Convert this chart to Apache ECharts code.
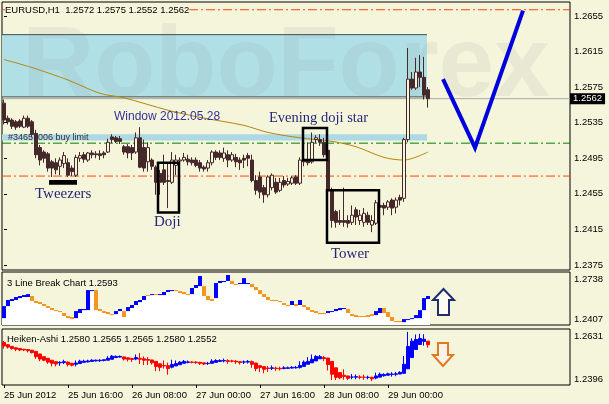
<!DOCTYPE html>
<html><head><meta charset="utf-8">
<script src="https://cdn.jsdelivr.net/npm/echarts@6/dist/echarts.min.js"></script>
<style>html,body{margin:0;padding:0;background:#f5f5dc;overflow:hidden}#c{width:609px;height:404px}</style>
</head><body><div id="c"></div>
<script>
// ---------- data ----------
const priceTicks = [1.2375, 1.2415, 1.2455, 1.2495, 1.2535, 1.2575, 1.2615, 1.2655];
const timeTickBars = [0, 16, 32, 48, 64, 80, 96];
const timeTickLabels = ['25 Jun 2012', '25 Jun 16:00', '26 Jun 08:00', '27 Jun 00:00', '27 Jun 16:00', '28 Jun 08:00', '29 Jun 00:00'];
const mainRange = [1.23694, 1.26707];
const lbRange = [1.2407, 1.2738];
const haRange = [1.2396, 1.2631];
const titleText = 'EURUSD,H1  1.2572 1.2575 1.2552 1.2562';
const lbTitle = '3 Line Break Chart 1.2593';
const haTitle = 'Heiken-Ashi 1.2580 1.2565 1.2565 1.2580 1.2552';
const orderText = '#34657006 buy limit';

// hourly candles: [open, close, low, high]
const ohlc = [
[1.2557,1.2538,1.2533,1.2561],[1.2540,1.2536,1.2533,1.2543],[1.2538,1.2531,1.2528,1.2540],[1.2536,1.2530,1.2527,1.2538],
[1.2537,1.2531,1.2529,1.2539],[1.2530,1.2540,1.2529,1.2543],[1.2540,1.2531,1.2529,1.2543],[1.2536,1.2522,1.2519,1.2538],
[1.2523,1.2499,1.2495,1.2527],[1.2507,1.2493,1.2487,1.2510],[1.2502,1.2495,1.2490,1.2504],[1.2500,1.2484,1.2480,1.2502],
[1.2491,1.2484,1.2474,1.2493],[1.2490,1.2482,1.2477,1.2495],[1.2486,1.2493,1.2476,1.2496],[1.2489,1.2498,1.2484,1.2502],
[1.2490,1.2476,1.2474,1.2495],[1.2484,1.2480,1.2475,1.2487],[1.2476,1.2496,1.2474,1.2499],[1.2495,1.2498,1.2491,1.2502],
[1.2499,1.2494,1.2490,1.2502],[1.2493,1.2501,1.2491,1.2502],[1.2501,1.2499,1.2495,1.2504],[1.2500,1.2499,1.2495,1.2503],
[1.2500,1.2498,1.2493,1.2504],[1.2501,1.2499,1.2495,1.2503],[1.2502,1.2513,1.2501,1.2517],[1.2519,1.2516,1.2512,1.2522],
[1.2518,1.2514,1.2512,1.2520],[1.2517,1.2514,1.2511,1.2520],[1.2508,1.2502,1.2499,1.2510],[1.2508,1.2501,1.2495,1.2511],
[1.2507,1.2501,1.2493,1.2510],[1.2502,1.2518,1.2500,1.2524],[1.2518,1.2485,1.2484,1.2530],[1.2507,1.2484,1.2480,1.2516],
[1.2491,1.2507,1.2480,1.2513],[1.2493,1.2486,1.2482,1.2495],[1.2485,1.2468,1.2454,1.2487],[1.2478,1.2468,1.2454,1.2482],
[1.2482,1.2468,1.2465,1.2499],[1.2470,1.2469,1.2439,1.2490],[1.2468,1.2493,1.2466,1.2502],[1.2487,1.2493,1.2476,1.2499],
[1.2492,1.2493,1.2487,1.2496],[1.2493,1.2496,1.2491,1.2501],[1.2494,1.2491,1.2487,1.2499],[1.2493,1.2490,1.2487,1.2496],
[1.2493,1.2487,1.2485,1.2496],[1.2490,1.2484,1.2480,1.2493],[1.2485,1.2483,1.2480,1.2487],[1.2484,1.2490,1.2480,1.2493],
[1.2490,1.2502,1.2487,1.2504],[1.2502,1.2496,1.2493,1.2504],[1.2501,1.2496,1.2493,1.2504],[1.2495,1.2501,1.2491,1.2507],
[1.2499,1.2493,1.2485,1.2504],[1.2493,1.2499,1.2491,1.2502],[1.2496,1.2491,1.2485,1.2500],[1.2493,1.2490,1.2482,1.2496],
[1.2495,1.2493,1.2484,1.2499],[1.2498,1.2495,1.2486,1.2501],[1.2493,1.2470,1.2468,1.2499],[1.2470,1.2459,1.2454,1.2476],
[1.2474,1.2457,1.2450,1.2480],[1.2462,1.2454,1.2445,1.2465],[1.2454,1.2474,1.2451,1.2476],[1.2462,1.2476,1.2459,1.2478],
[1.2468,1.2457,1.2455,1.2473],[1.2459,1.2468,1.2457,1.2473],[1.2470,1.2465,1.2462,1.2475],[1.2466,1.2469,1.2464,1.2473],
[1.2467,1.2473,1.2465,1.2475],[1.2474,1.2467,1.2465,1.2476],[1.2467,1.2493,1.2465,1.2496],[1.2493,1.2491,1.2486,1.2499],
[1.2492,1.2490,1.2487,1.2513],[1.2491,1.2513,1.2489,1.2524],[1.2516,1.2518,1.2512,1.2521],[1.2516,1.2513,1.2509,1.2522],
[1.2513,1.2499,1.2496,1.2518],[1.2504,1.2459,1.2457,1.2507],[1.2459,1.2425,1.2417,1.2462],[1.2435,1.2423,1.2417,1.2437],
[1.2425,1.2423,1.2420,1.2437],[1.2425,1.2423,1.2418,1.2462],[1.2425,1.2422,1.2417,1.2431],[1.2423,1.2431,1.2420,1.2442],
[1.2437,1.2429,1.2420,1.2440],[1.2425,1.2431,1.2420,1.2437],[1.2423,1.2433,1.2418,1.2439],[1.2431,1.2423,1.2420,1.2435],
[1.2420,1.2425,1.2412,1.2431],[1.2422,1.2445,1.2420,1.2448],[1.2442,1.2440,1.2435,1.2448],[1.2442,1.2439,1.2431,1.2445],
[1.2440,1.2446,1.2437,1.2448],[1.2448,1.2439,1.2431,1.2450],[1.2440,1.2448,1.2433,1.2451],[1.2451,1.2448,1.2442,1.2454],
[1.2450,1.2516,1.2446,1.2518],[1.2516,1.2584,1.2513,1.2619],[1.2584,1.2574,1.2572,1.2592],[1.2574,1.2592,1.2572,1.2608],
[1.2592,1.2586,1.2575,1.2611],[1.2586,1.2566,1.2561,1.2609],[1.2572,1.2562,1.2552,1.2575]
];

// moving average read at sampled bars: [bar, price]
const movingAverage = [[0,1.2606],[7,1.2597],[16,1.2583],[24,1.2568],[30,1.2563],[41,1.2549],[49,1.2541],[60,1.2532],
[66,1.2524],[74,1.2518],[82,1.2514],[88,1.2508],[95,1.2496],[100,1.2493],[106,1.2502]];

// 3 line break bricks: [low, high, direction (1 up, -1 down)]
const lineBreak = [
[1.2450,1.2525,1],[1.2525,1.2563,1],[1.2557,1.2569,1],[1.2563,1.2582,1],[1.2575,1.2588,1],[1.2582,1.2594,1],[1.2582,1.2600,1],
[1.2557,1.2588,-1],[1.2544,1.2557,-1],[1.2538,1.2550,-1],[1.2525,1.2538,-1],[1.2513,1.2525,-1],[1.2500,1.2513,-1],[1.2494,1.2500,-1],
[1.2488,1.2494,-1],[1.2463,1.2482,-1],[1.2450,1.2463,-1],[1.2444,1.2457,-1],[1.2450,1.2494,1],[1.2482,1.2507,1],[1.2500,1.2507,1],
[1.2500,1.2625,1],[1.2619,1.2625,1],[1.2500,1.2625,-1],[1.2494,1.2507,-1],[1.2482,1.2494,-1],[1.2475,1.2488,-1],[1.2469,1.2475,-1],
[1.2475,1.2494,1],[1.2494,1.2507,1],[1.2457,1.2494,-1],[1.2494,1.2519,1],[1.2513,1.2532,1],[1.2532,1.2557,1],[1.2550,1.2563,1],
[1.2563,1.2588,1],[1.2588,1.2594,-1],[1.2594,1.2600,1],[1.2594,1.2600,-1],[1.2594,1.2600,1],[1.2594,1.2613,1],[1.2613,1.2625,1],
[1.2619,1.2625,1],[1.2619,1.2625,-1],[1.2607,1.2619,-1],[1.2600,1.2613,-1],[1.2594,1.2600,-1],[1.2600,1.2638,1],[1.2638,1.2657,1],
[1.2650,1.2713,1],[1.2588,1.2650,-1],[1.2563,1.2588,-1],[1.2557,1.2569,-1],[1.2575,1.2669,1],[1.2669,1.2682,1],[1.2675,1.2682,1],
[1.2682,1.2719,1],[1.2663,1.2682,-1],[1.2657,1.2663,-1],[1.2663,1.2669,1],[1.2663,1.2700,1],[1.2663,1.2669,1],[1.2644,1.2663,-1],
[1.2625,1.2644,-1],[1.2600,1.2625,-1],[1.2582,1.2600,-1],[1.2563,1.2582,-1],[1.2557,1.2563,-1],[1.2557,1.2563,-1],[1.2550,1.2557,-1],
[1.2532,1.2544,-1],[1.2525,1.2532,-1],[1.2532,1.2557,1],[1.2525,1.2538,-1],[1.2532,1.2563,1],[1.2519,1.2532,-1],[1.2500,1.2519,-1],
[1.2488,1.2500,-1],[1.2482,1.2494,-1],[1.2475,1.2482,-1],[1.2475,1.2482,-1],[1.2482,1.2494,1],[1.2488,1.2494,1],[1.2494,1.2507,1],
[1.2500,1.2513,1],[1.2507,1.2513,1],[1.2482,1.2507,-1],[1.2463,1.2475,-1],[1.2457,1.2469,-1],[1.2457,1.2463,-1],[1.2457,1.2463,-1],
[1.2457,1.2469,-1],[1.2463,1.2475,-1],[1.2469,1.2494,1],[1.2482,1.2513,1],[1.2482,1.2513,-1],[1.2457,1.2488,-1],[1.2432,1.2457,-1],
[1.2425,1.2432,-1],[1.2425,1.2432,-1],[1.2425,1.2444,1],[1.2438,1.2444,1],[1.2444,1.2450,1],[1.2450,1.2469,1],[1.2450,1.2500,1],
[1.2500,1.2575,1],[1.2569,1.2588,1]
];

// Heiken-Ashi: [open, close, low, high]
const heikenAshi = [
[1.2575,1.2560,1.2549,1.2581],[1.2565,1.2555,1.2549,1.2568],[1.2558,1.2549,1.2544,1.2560],[1.2552,1.2546,1.2538,1.2554],
[1.2549,1.2543,1.2538,1.2551],[1.2546,1.2543,1.2538,1.2547],[1.2545,1.2540,1.2533,1.2546],[1.2542,1.2532,1.2528,1.2543],
[1.2537,1.2515,1.2506,1.2538],[1.2526,1.2505,1.2496,1.2527],[1.2515,1.2500,1.2496,1.2516],[1.2508,1.2492,1.2485,1.2509],
[1.2500,1.2487,1.2474,1.2501],[1.2494,1.2484,1.2474,1.2495],[1.2489,1.2491,1.2476,1.2496],[1.2490,1.2494,1.2484,1.2502],
[1.2492,1.2482,1.2474,1.2495],[1.2487,1.2479,1.2474,1.2489],[1.2483,1.2488,1.2474,1.2499],[1.2486,1.2496,1.2486,1.2502],
[1.2491,1.2496,1.2490,1.2502],[1.2493,1.2497,1.2491,1.2502],[1.2495,1.2500,1.2495,1.2504],[1.2497,1.2500,1.2495,1.2503],
[1.2498,1.2500,1.2493,1.2504],[1.2499,1.2502,1.2495,1.2503],[1.2500,1.2508,1.2500,1.2517],[1.2504,1.2517,1.2504,1.2522],
[1.2511,1.2516,1.2511,1.2520],[1.2513,1.2516,1.2511,1.2520],[1.2514,1.2505,1.2499,1.2515],[1.2510,1.2504,1.2495,1.2511],
[1.2507,1.2503,1.2493,1.2510],[1.2505,1.2511,1.2500,1.2524],[1.2508,1.2504,1.2484,1.2530],[1.2506,1.2500,1.2480,1.2516],
[1.2503,1.2500,1.2480,1.2513],[1.2501,1.2489,1.2482,1.2502],[1.2495,1.2474,1.2454,1.2496],[1.2485,1.2470,1.2454,1.2486],
[1.2478,1.2476,1.2465,1.2499],[1.2477,1.2465,1.2439,1.2490],[1.2471,1.2482,1.2466,1.2502],[1.2476,1.2486,1.2476,1.2499],
[1.2481,1.2492,1.2481,1.2496],[1.2487,1.2495,1.2487,1.2501],[1.2491,1.2493,1.2487,1.2499],[1.2492,1.2491,1.2487,1.2496],
[1.2492,1.2490,1.2485,1.2496],[1.2491,1.2487,1.2480,1.2493],[1.2489,1.2484,1.2480,1.2489],[1.2486,1.2487,1.2480,1.2493],
[1.2487,1.2496,1.2487,1.2504],[1.2491,1.2499,1.2491,1.2504],[1.2495,1.2499,1.2493,1.2504],[1.2497,1.2499,1.2491,1.2507],
[1.2498,1.2495,1.2485,1.2504],[1.2497,1.2496,1.2491,1.2502],[1.2496,1.2493,1.2485,1.2500],[1.2494,1.2490,1.2482,1.2496],
[1.2492,1.2493,1.2484,1.2499],[1.2492,1.2495,1.2486,1.2501],[1.2494,1.2483,1.2468,1.2499],[1.2488,1.2465,1.2454,1.2489],
[1.2477,1.2470,1.2450,1.2480],[1.2473,1.2462,1.2445,1.2474],[1.2467,1.2465,1.2451,1.2476],[1.2466,1.2468,1.2459,1.2478],
[1.2467,1.2465,1.2455,1.2473],[1.2466,1.2464,1.2457,1.2473],[1.2465,1.2468,1.2462,1.2475],[1.2466,1.2468,1.2464,1.2473],
[1.2467,1.2470,1.2465,1.2475],[1.2468,1.2470,1.2465,1.2476],[1.2469,1.2478,1.2465,1.2496],[1.2474,1.2492,1.2474,1.2499],
[1.2483,1.2495,1.2483,1.2513],[1.2489,1.2504,1.2489,1.2524],[1.2497,1.2516,1.2497,1.2521],[1.2506,1.2515,1.2506,1.2522],
[1.2511,1.2507,1.2496,1.2518],[1.2509,1.2482,1.2457,1.2510],[1.2495,1.2441,1.2417,1.2496],[1.2468,1.2428,1.2417,1.2469],
[1.2448,1.2426,1.2420,1.2449],[1.2437,1.2432,1.2418,1.2462],[1.2434,1.2424,1.2417,1.2435],[1.2429,1.2429,1.2420,1.2442],
[1.2429,1.2431,1.2420,1.2440],[1.2430,1.2428,1.2420,1.2437],[1.2429,1.2428,1.2418,1.2439],[1.2428,1.2428,1.2420,1.2435],
[1.2428,1.2422,1.2412,1.2431],[1.2425,1.2434,1.2420,1.2448],[1.2429,1.2441,1.2429,1.2448],[1.2435,1.2440,1.2431,1.2445],
[1.2437,1.2443,1.2437,1.2448],[1.2440,1.2442,1.2431,1.2450],[1.2441,1.2443,1.2433,1.2451],[1.2442,1.2449,1.2442,1.2454],
[1.2445,1.2483,1.2445,1.2518],[1.2464,1.2558,1.2464,1.2619],[1.2511,1.2580,1.2511,1.2592],[1.2545,1.2587,1.2545,1.2608],
[1.2566,1.2591,1.2566,1.2611],[1.2579,1.2588,1.2561,1.2609],[1.2580,1.2565,1.2552,1.2580]
];

// horizontal levels and zones (prices), bar positions for drawn objects
const upperRedLevel = 1.2662;
const greenLevel = 1.2512;
const lowerRedLevel = 1.2475;
const lastPrice = 1.2562;
const blueZone = [1.2564, 1.2634];
const buyLimitZone = [1.2515, 1.2522];
const zoneEndBar = 105.75;
const forecastPath = [[109.75, 1.2584], [117.75, 1.2507], [129.75, 1.2661]];
// pattern boxes: [barFrom, barTo, priceLow, priceHigh]
const patternBoxes = [[38.5, 43.75, 1.2434, 1.2490], [74.75, 80.75, 1.2493, 1.2529], [80.75, 93.75, 1.2400, 1.2459]];
const tweezersBar = [11.5, 18, 1.24665, 1.24695];

// ---------- chart ----------
const X0 = -0.5, X1 = 141.5;
const SANS = '"Liberation Sans", Arial, sans-serif';
const SERIF = '"Liberation Serif", "Times New Roman", serif';
const BG = '#f5f5dc';
const chart = echarts.init(document.getElementById('c'), null, {renderer: 'canvas'});

function rect(api, x0, x1, y0, y1) {
  const a = api.coord([x0, y1]), b = api.coord([x1, y0]);
  return {x: a[0], y: a[1], width: b[0] - a[0], height: b[1] - a[1]};
}
function hLine(v) { return [[X0, v], [X1, v]]; }
const dashDot = [9, 3, 2, 3];

const xAxisBase = (g, showLabels) => ({
  type: 'value', gridIndex: g, min: X0, max: X1,
  axisLine: {show: false}, splitLine: {show: false},
  axisTick: showLabels ? {show: true, customValues: timeTickBars, length: 3, lineStyle: {color: '#000'}} : {show: false},
  axisLabel: showLabels ? {
    show: true, customValues: timeTickBars, align: 'left', margin: 5,
    fontFamily: SANS, fontSize: 9.5, color: '#000',
    formatter: v => timeTickLabels[timeTickBars.indexOf(Math.round(v))] || ''
  } : {show: false}
});

const subLabel = (range) => ({
  show: true, customValues: [range[0], range[1]], margin: 4,
  formatter: v => (Math.abs(v - range[1]) < 1e-6 ? '{t|' : '{b|') + v.toFixed(4) + '}',
  rich: {
    t: {fontFamily: SANS, fontSize: 9.5, color: '#000', padding: [15, 0, 0, 0]},
    b: {fontFamily: SANS, fontSize: 9.5, color: '#000', padding: [0, 0, 11, 0]}
  }
});

const option = {
  backgroundColor: BG,
  animation: false,
  grid: [
    {left: 2, top: 2, width: 568, height: 268, show: true, borderColor: '#000', borderWidth: 1, backgroundColor: 'transparent'},
    {left: 2, top: 272, width: 568, height: 53, show: true, borderColor: '#000', borderWidth: 1, backgroundColor: 'transparent'},
    {left: 2, top: 329, width: 568, height: 56, show: true, borderColor: '#000', borderWidth: 1, backgroundColor: 'transparent'}
  ],
  xAxis: [xAxisBase(0, false), xAxisBase(1, false), xAxisBase(2, true)],
  yAxis: [
    {type: 'value', gridIndex: 0, position: 'right', min: mainRange[0], max: mainRange[1],
     axisLine: {show: false}, splitLine: {show: false},
     axisTick: {show: true, customValues: priceTicks, length: 3, lineStyle: {color: '#000'}},
     axisLabel: {show: true, customValues: priceTicks, margin: 4, fontFamily: SANS, fontSize: 9.5, color: '#000', formatter: v => v.toFixed(4)}},
    {type: 'value', gridIndex: 1, position: 'right', min: lbRange[0], max: lbRange[1],
     axisLine: {show: false}, splitLine: {show: false}, axisTick: {show: false}, axisLabel: subLabel(lbRange)},
    {type: 'value', gridIndex: 2, position: 'right', min: haRange[0], max: haRange[1],
     axisLine: {show: false}, splitLine: {show: false}, axisTick: {show: false}, axisLabel: subLabel(haRange)}
  ],
  series: [
    { // zones
      type: 'custom', xAxisIndex: 0, yAxisIndex: 0, z: 1, silent: true,
      data: [[X0, zoneEndBar, blueZone[0], blueZone[1]], [X0, zoneEndBar, buyLimitZone[0], buyLimitZone[1]]],
      renderItem: (p, api) => ({type: 'rect', shape: rect(api, api.value(0), api.value(1), api.value(2), api.value(3)),
        style: {fill: p.dataIndex === 0 ? '#b0e0e6' : '#add8e6'}})
    },
    {type: 'line', xAxisIndex: 0, yAxisIndex: 0, z: 3, symbol: 'none', silent: true,
     data: [[X0, blueZone[1]], [zoneEndBar, blueZone[1]]], lineStyle: {color: '#3d5050', width: 1}},
    {type: 'line', xAxisIndex: 0, yAxisIndex: 0, z: 3, symbol: 'none', silent: true,
     data: [[X0, blueZone[0]], [zoneEndBar, blueZone[0]]], lineStyle: {color: '#3d5050', width: 1}},
    {type: 'line', xAxisIndex: 0, yAxisIndex: 0, z: 3, symbol: 'none', silent: true,
     data: hLine(upperRedLevel), lineStyle: {color: '#ff4500', width: 1, type: dashDot}},
    {type: 'line', xAxisIndex: 0, yAxisIndex: 0, z: 3, symbol: 'none', silent: true,
     data: hLine(greenLevel), lineStyle: {color: '#008000', width: 1, type: dashDot}},
    {type: 'line', xAxisIndex: 0, yAxisIndex: 0, z: 3, symbol: 'none', silent: true,
     data: hLine(lowerRedLevel), lineStyle: {color: '#ff4500', width: 1, type: dashDot}},
    {type: 'line', xAxisIndex: 0, yAxisIndex: 0, z: 3, symbol: 'none', silent: true,
     data: hLine(lastPrice), lineStyle: {color: '#a8a8a8', width: 1},
     endLabel: {show: true, formatter: () => lastPrice.toFixed(4), backgroundColor: '#000', color: '#fff',
       fontFamily: SANS, fontSize: 9.5, padding: [1, 3, 0, 3], distance: 0}},
    {type: 'line', xAxisIndex: 0, yAxisIndex: 0, z: 4, symbol: 'none', silent: true,
     data: movingAverage, smooth: 0.3, lineStyle: {color: '#b8860b', width: 1}},
    {type: 'candlestick', xAxisIndex: 0, yAxisIndex: 0, z: 5, silent: true, barWidth: 3,
     dimensions: ['bar', 'open', 'close', 'lowest', 'highest'],
     encode: {x: 'bar', y: ['open', 'close', 'lowest', 'highest']},
     data: ohlc.map((d, i) => [i, d[0], d[1], d[2], d[3]]),
     itemStyle: {color: BG, borderColor: '#45282a', color0: '#45282a', borderColor0: '#45282a', borderWidth: 1}},
    { // pattern boxes
      type: 'custom', xAxisIndex: 0, yAxisIndex: 0, z: 6, silent: true,
      data: patternBoxes,
      renderItem: (p, api) => ({type: 'rect', shape: rect(api, api.value(0), api.value(1), api.value(2), api.value(3)),
        style: {fill: 'none', stroke: '#000', lineWidth: 2.5}})
    },
    {
      type: 'custom', xAxisIndex: 0, yAxisIndex: 0, z: 6, silent: true,
      data: [tweezersBar],
      renderItem: (p, api) => ({type: 'rect', shape: rect(api, api.value(0), api.value(1), api.value(2), api.value(3)),
        style: {fill: '#000', stroke: '#000', lineWidth: 2}})
    },
    {type: 'line', xAxisIndex: 0, yAxisIndex: 0, z: 7, symbol: 'none', silent: true,
     data: forecastPath, lineStyle: {color: '#0000dd', width: 4, join: 'miter'}},
    { // 3 line break
      type: 'custom', xAxisIndex: 1, yAxisIndex: 1, z: 5, silent: true,
      data: lineBreak.map((d, i) => [i, d[0], d[1], d[2]]),
      renderItem: (p, api) => {
        const i = api.value(0), lo = api.value(1), hi = api.value(2), dir = api.value(3);
        const pl = api.coord([i, lo]), ph = api.coord([i, hi]);
        const w = api.size([1, 0])[0];
        const bottom = p.coordSys.y + p.coordSys.height;
        const x0 = pl[0] - w / 2;
        return {type: 'group', children: [
          {type: 'rect', shape: {x: x0, y: pl[1], width: w, height: bottom - pl[1]}, style: {fill: '#ffffff'}},
          {type: 'rect', shape: {x: x0, y: ph[1], width: w, height: Math.max(1, pl[1] - ph[1])}, style: {fill: dir > 0 ? '#0000ff' : '#f7941d'}}
        ]};
      }
    },
    {type: 'candlestick', xAxisIndex: 2, yAxisIndex: 2, z: 5, silent: true, barWidth: 3,
     dimensions: ['bar', 'open', 'close', 'lowest', 'highest'],
     encode: {x: 'bar', y: ['open', 'close', 'lowest', 'highest']},
     data: heikenAshi.map((d, i) => [i, d[0], d[1], d[2], d[3]]),
     itemStyle: {color: '#0000ff', borderColor: '#0000ff', color0: '#ff0000', borderColor0: '#ff0000', borderWidth: 1}}
  ],
  graphic: [
    {type: 'text', x: 22, y: 68, z: 2, silent: true,
     style: {text: 'RoboForex', font: 'bold 100px ' + SANS, fill: 'rgba(120,120,120,0.09)', verticalAlign: 'middle'}},
    {type: 'text', x: 5, y: 10, z: 8, silent: true,
     style: {text: titleText, font: '9.5px ' + SANS, fill: '#000', verticalAlign: 'middle', backgroundColor: '#f5f5dc'}},
    {type: 'text', x: 8, y: 137.5, z: 8, silent: true,
     style: {text: orderText, font: '9px ' + SANS, fill: '#333', verticalAlign: 'middle'}},
    {type: 'text', x: 114, y: 117, z: 8, silent: true,
     style: {text: 'Window 2012.05.28', font: '12px ' + SANS, fill: '#33339a', verticalAlign: 'middle'}},
    {type: 'text', x: 269, y: 118, z: 8, silent: true,
     style: {text: 'Evening doji star', font: '14.5px ' + SERIF, fill: '#26267a', verticalAlign: 'middle'}},
    {type: 'text', x: 35, y: 194, z: 8, silent: true,
     style: {text: 'Tweezers', font: '15px ' + SERIF, fill: '#26267a', verticalAlign: 'middle'}},
    {type: 'text', x: 154, y: 222, z: 8, silent: true,
     style: {text: 'Doji', font: '15px ' + SERIF, fill: '#26267a', verticalAlign: 'middle'}},
    {type: 'text', x: 331, y: 254, z: 8, silent: true,
     style: {text: 'Tower', font: '15px ' + SERIF, fill: '#26267a', verticalAlign: 'middle'}},
    {type: 'text', x: 7, y: 283, z: 8, silent: true,
     style: {text: lbTitle, font: '9.5px ' + SANS, fill: '#000', verticalAlign: 'middle'}},
    {type: 'text', x: 7, y: 339, z: 8, silent: true,
     style: {text: haTitle, font: '9.5px ' + SANS, fill: '#000', verticalAlign: 'middle'}},
    {type: 'polygon', z: 8, silent: true,
     shape: {points: [[443.5, 289], [454, 300], [449, 300], [449, 315], [438, 315], [438, 300], [433, 300]]},
     style: {fill: '#fbfbf3', stroke: '#1f2d6e', lineWidth: 2}},
    {type: 'polygon', z: 8, silent: true,
     shape: {points: [[438, 343], [448, 343], [448, 355], [453, 355], [443, 366], [433, 355], [438, 355]]},
     style: {fill: '#fbf3ea', stroke: '#e07a20', lineWidth: 2}}
  ]
};
chart.setOption(option);
</script></body></html>
